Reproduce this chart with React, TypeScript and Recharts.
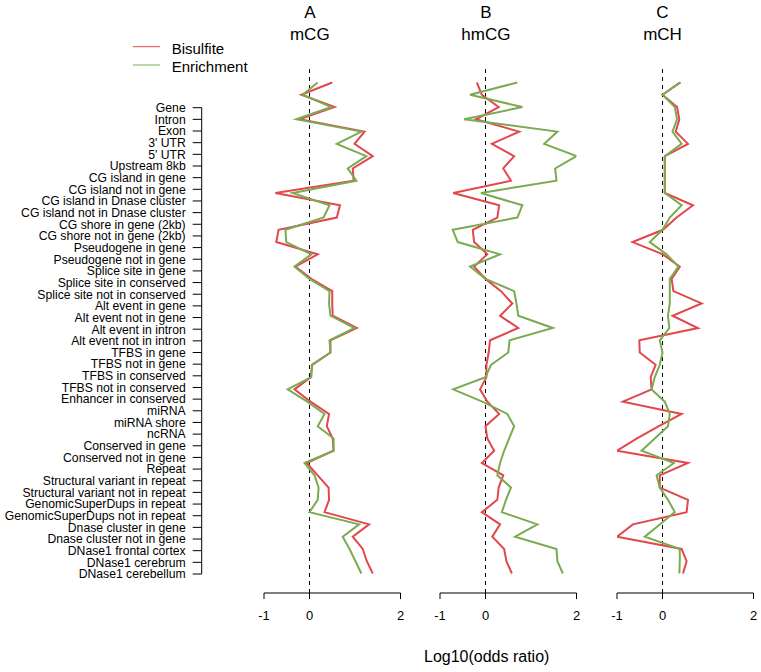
import React from 'react';
import { LineChart, Line, XAxis, YAxis, ReferenceLine } from 'recharts';

const categories = [
  'Gene', 'Intron', 'Exon', "3' UTR", "5' UTR", 'Upstream 8kb',
  'CG island in gene', 'CG island not in gene', 'CG island in Dnase cluster',
  'CG island not in Dnase cluster', 'CG shore in gene (2kb)', 'CG shore not in gene (2kb)',
  'Pseudogene in gene', 'Pseudogene not in gene', 'Splice site in gene',
  'Splice site in conserved', 'Splice site not in conserved', 'Alt event in gene',
  'Alt event not in gene', 'Alt event in intron', 'Alt event not in intron',
  'TFBS in gene', 'TFBS not in gene', 'TFBS in conserved', 'TFBS not in conserved',
  'Enhancer in conserved', 'miRNA', 'miRNA shore', 'ncRNA', 'Conserved in gene',
  'Conserved not in gene', 'Repeat', 'Structural variant in repeat',
  'Structural variant not in repeat', 'GenomicSuperDups in repeat',
  'GenomicSuperDups not in repeat', 'Dnase cluster in gene', 'Dnase cluster not in gene',
  'DNase1 frontal cortex', 'DNase1 cerebrum', 'DNase1 cerebellum',
];

// log10 odds ratio, one value per row (top to bottom)
const bisulfiteA = [0.50, -0.18, 0.55, -0.22, 1.21, 0.99, 1.39, 0.95, 0.97, -0.75, 0.67, 0.60, -0.68, -0.73, 0.18, -0.31, 0.04, 0.50, 0.50, 0.51, 1.04, 0.46, 0.46, 0.06, 0.03, -0.33, 0.02, 0.43, 0.38, 0.51, 0.53, -0.06, 0.18, 0.42, 0.43, 0.33, 1.31, 0.95, 1.17, 1.26, 1.39];
const enrichmentA = [0.18, -0.15, 0.48, -0.29, 1.14, 0.60, 1.25, 0.84, 1.03, -0.37, 0.44, 0.31, -0.53, -0.51, 0.04, -0.33, 0.0, 0.44, 0.43, 0.46, 0.99, 0.44, 0.46, 0.05, 0.04, -0.48, -0.05, 0.33, 0.18, 0.53, 0.53, -0.11, 0.11, 0.20, 0.18, 0.0, 1.09, 0.73, 0.88, 1.01, 1.14];
const bisulfiteB = [-0.19, -0.08, 0.29, -0.21, 0.74, 0.14, 0.63, 0.39, 0.56, -0.71, 0.30, 0.26, -0.28, -0.25, 0.04, -0.25, 0.0, 0.34, 0.59, 0.32, 0.72, 0.10, 0.07, 0.02, 0.02, -0.12, 0.04, 0.30, 0.0, 0.04, 0.19, -0.08, 0.39, 0.29, 0.26, -0.08, 0.32, 0.15, 0.41, 0.46, 0.58];
const enrichmentB = [0.70, -0.34, 0.81, -0.47, 1.58, 1.29, 2.0, 1.53, 1.56, -0.10, 0.81, 0.70, -0.72, -0.61, 0.32, -0.34, 0.0, 0.63, 0.68, 0.72, 1.48, 0.53, 0.50, 0.12, 0.0, -0.71, -0.07, 0.48, 0.63, 0.52, 0.41, 0.32, 0.26, 0.56, 0.45, 0.36, 1.14, 0.65, 1.56, 1.58, 1.70];
const bisulfiteC = [0.38, 0.0, 0.32, 0.37, 0.29, 0.56, 0.05, null, null, 0.05, 0.67, 0.31, 0.01, -0.66, 0.01, 0.38, 0.20, 0.24, 0.86, 0.22, 0.78, -0.51, -0.50, -0.15, -0.26, -0.24, -0.87, 0.42, -0.08, -0.56, -1.0, 0.56, -0.06, -0.06, 0.56, 0.53, -0.65, -1.0, 0.42, 0.53, 0.45];
const enrichmentC = [0.40, 0.0, 0.27, 0.32, 0.22, 0.42, 0.05, null, null, 0.05, 0.42, 0.16, 0.0, -0.28, 0.09, 0.35, 0.16, 0.16, 0.16, 0.12, 0.15, -0.06, 0.0, -0.06, -0.17, -0.24, 0.05, 0.16, 0.12, -0.17, -0.46, 0.25, -0.13, -0.06, 0.12, 0.27, -0.06, -0.39, 0.38, 0.38, 0.37];

const panelLetters = ['A', 'B', 'C'];
const panelTitles = ['mCG', 'hmCG', 'mCH'];
const xTicks = [-1, 0, 2];

const rows = categories.map((c, i) => ({
  idx: i,
  bisA: bisulfiteA[i], enrA: enrichmentA[i],
  bisB: bisulfiteB[i], enrB: enrichmentB[i],
  bisC: bisulfiteC[i], enrC: enrichmentC[i],
}));

const FONT = '"Liberation Sans", Arial, sans-serif';
const RED = '#e3474c';
const GREEN = '#7aab52';

// layout (px)
const PLOT_TOP = 65;
const PLOT_BOTTOM = 593;
const ROW0_Y = 82.5;
const ROW_STEP = 12.275;
const Y_DOMAIN = [(PLOT_TOP - ROW0_Y) / ROW_STEP, (PLOT_BOTTOM - ROW0_Y) / ROW_STEP];
const PANEL_W = 136.5;
const PANEL_LEFTS = [264.3, 440.4, 617.0];
const PAD = 20;
const XAXIS_H = 40;

function Panel({ left, bisKey, enrKey }) {
  return (
    <div style={{ position: 'absolute', left: left - PAD, top: PLOT_TOP }}>
      <LineChart
        layout="vertical"
        width={PANEL_W + PAD * 2}
        height={PLOT_BOTTOM - PLOT_TOP + XAXIS_H}
        data={rows}
        margin={{ top: 0, right: PAD, bottom: 0, left: PAD }}
      >
        <XAxis
          type="number"
          domain={[-1, 2]}
          ticks={xTicks}
          interval={0}
          allowDataOverflow
          height={XAXIS_H}
          tickSize={6}
          tickMargin={11.5}
          axisLine={{ stroke: '#000' }}
          tickLine={{ stroke: '#000' }}
          tick={{ fill: '#000', fontSize: 13, fontFamily: FONT }}
        />
        <YAxis type="number" dataKey="idx" domain={Y_DOMAIN} hide allowDataOverflow width={0} />
        <ReferenceLine x={0} stroke="#000" strokeDasharray="4 4" />
        <Line type="linear" dataKey={bisKey} stroke={RED} strokeWidth={2} dot={false} isAnimationActive={false} />
        <Line type="linear" dataKey={enrKey} stroke={GREEN} strokeWidth={2} dot={false} isAnimationActive={false} />
      </LineChart>
    </div>
  );
}

function CategoryTick({ x, y, payload }) {
  return (
    <text x={x} y={y} dy="0.355em" textAnchor="end" fontSize={12.2} fill="#000" fontFamily={FONT}>
      {categories[payload.value]}
    </text>
  );
}

function LabelAxis() {
  const top = 107.7;
  const bottom = 574;
  return (
    <div style={{ position: 'absolute', left: 0, top: 0 }}>
      <LineChart
        layout="vertical"
        width={230}
        height={bottom + 20}
        data={rows}
        margin={{ top, right: 20, bottom: 20, left: 0 }}
      >
        <XAxis type="number" hide domain={[0, 1]} />
        <YAxis
          type="number"
          dataKey="idx"
          domain={[0, categories.length - 1]}
          allowDataOverflow
          ticks={categories.map((c, i) => i)}
          interval={0}
          width={201.7}
          tickSize={9}
          tickMargin={7}
          axisLine={{ stroke: '#000' }}
          tickLine={{ stroke: '#000' }}
          tick={<CategoryTick />}
        />
      </LineChart>
    </div>
  );
}

export default function App() {
  const centers = PANEL_LEFTS.map((l) => l + PANEL_W / 3);
  return (
    <div style={{ position: 'absolute', left: 0, top: 0, width: 761, height: 672, background: '#fff', fontFamily: FONT }}>
      <LabelAxis />
      <Panel left={PANEL_LEFTS[0]} bisKey="bisA" enrKey="enrA" />
      <Panel left={PANEL_LEFTS[1]} bisKey="bisB" enrKey="enrB" />
      <Panel left={PANEL_LEFTS[2]} bisKey="bisC" enrKey="enrC" />
      <svg width={761} height={672} style={{ position: 'absolute', left: 0, top: 0, pointerEvents: 'none' }}>
        {centers.map((cx, i) => (
          <g key={i}>
            <text x={cx} y={18.3} textAnchor="middle" fontSize={17} fill="#000" fontFamily={FONT}>{panelLetters[i]}</text>
            <text x={cx} y={40} textAnchor="middle" fontSize={17} fill="#000" fontFamily={FONT}>{panelTitles[i]}</text>
          </g>
        ))}
        <line x1={133} x2={160} y1={46.7} y2={46.7} stroke={RED} strokeWidth={1} />
        <text x={171.7} y={53.5} fontSize={15} fill="#000" fontFamily={FONT}>Bisulfite</text>
        <line x1={133} x2={160} y1={65} y2={65} stroke={GREEN} strokeWidth={1} />
        <text x={171.7} y={71.8} fontSize={15} fill="#000" fontFamily={FONT}>Enrichment</text>
        <text x={486.7} y={662} textAnchor="middle" fontSize={16} fill="#000" fontFamily={FONT}>Log10(odds ratio)</text>
      </svg>
    </div>
  );
}
